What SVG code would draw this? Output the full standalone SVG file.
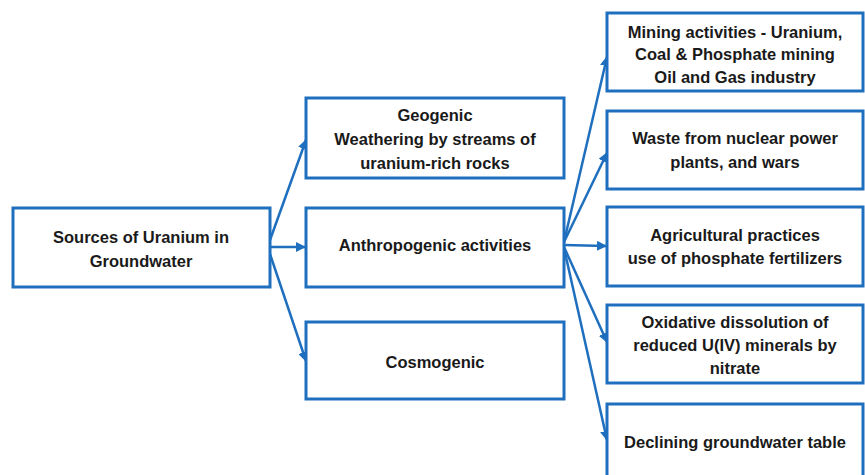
<svg xmlns="http://www.w3.org/2000/svg" width="865" height="475" viewBox="0 0 865 475">
<style>
.box{fill:#fff;stroke:#1f6fbf;stroke-width:3}
.t{font-family:"Liberation Sans",Arial,sans-serif;font-weight:bold;font-size:16.5px;fill:#1a1a1a;text-anchor:middle}
.c{stroke:#1f6fbf;stroke-width:2.5;fill:none;marker-end:url(#ah)}
</style>
<defs>
<marker id="ah" viewBox="0 0 10 10" refX="9" refY="5" markerWidth="4" markerHeight="4" orient="auto" markerUnits="strokeWidth">
<path d="M0,0 L10,5 L0,10 z" fill="#1f6fbf"/>
</marker>
</defs>
<rect width="865" height="475" fill="#fff"/>
<g id="connectors">
<path class="c" d="M270,240 L306,140"/>
<path class="c" d="M270,247 L305,247"/>
<path class="c" d="M270,254 L306,361"/>
<path class="c" d="M564,242 L607,57"/>
<path class="c" d="M564,242 L607,153"/>
<path class="c" d="M564,245 L606,246"/>
<path class="c" d="M564,247 L607,342"/>
<path class="c" d="M564,248 L607,440"/>
</g>
<g id="sources">
<rect class="box" x="13" y="208" width="257" height="79"/>
<text class="t" x="141" y="243">Sources of Uranium in</text>
<text class="t" x="141" y="267">Groundwater</text>
</g>
<g id="geogenic">
<rect class="box" x="306" y="98" width="258" height="80"/>
<text class="t" x="435" y="121">Geogenic</text>
<text class="t" x="435" y="145">Weathering by streams of</text>
<text class="t" x="435" y="169">uranium-rich rocks</text>
</g>
<g id="anthropogenic">
<rect class="box" x="306" y="208" width="258" height="79"/>
<text class="t" x="435" y="251">Anthropogenic activities</text>
</g>
<g id="cosmogenic">
<rect class="box" x="306" y="322" width="258" height="77"/>
<text class="t" x="435" y="368">Cosmogenic</text>
</g>
<g id="mining">
<rect class="box" x="607" y="13" width="256" height="78"/>
<text class="t" x="735" y="38">Mining activities - Uranium,</text>
<text class="t" x="735" y="60">Coal &amp; Phosphate mining</text>
<text class="t" x="735" y="83">Oil and Gas industry</text>
</g>
<g id="waste">
<rect class="box" x="607" y="111" width="256" height="78"/>
<text class="t" x="735" y="144">Waste from nuclear power</text>
<text class="t" x="735" y="168">plants, and wars</text>
</g>
<g id="agricultural">
<rect class="box" x="607" y="207" width="256" height="79"/>
<text class="t" x="735" y="241">Agricultural practices</text>
<text class="t" x="735" y="264">use of phosphate fertilizers</text>
</g>
<g id="oxidative">
<rect class="box" x="607" y="305" width="256" height="78"/>
<text class="t" x="735" y="328">Oxidative dissolution of</text>
<text class="t" x="735" y="351">reduced U(IV) minerals by</text>
<text class="t" x="735" y="374">nitrate</text>
</g>
<g id="declining">
<rect class="box" x="607" y="404" width="256" height="90"/>
<text class="t" x="735" y="448">Declining groundwater table</text>
</g>
</svg>
